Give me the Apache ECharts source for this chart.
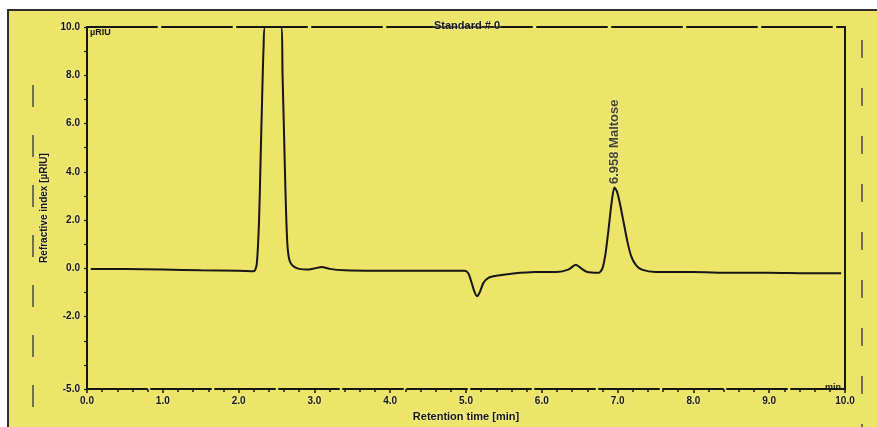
<!DOCTYPE html>
<html>
<head>
<meta charset="utf-8">
<title>Standard # 0</title>
<script src="https://cdn.jsdelivr.net/npm/echarts@6/dist/echarts.min.js"></script>
<style>
  html, body { margin: 0; padding: 0; background: #ffffff; }
  #chart { width: 877px; height: 427px; }
</style>
</head>
<body>
<div id="chart"></div>
<script>
// Chromatogram trace: retention time (min) and refractive-index signal (µRIU).
// The solvent peak saturates the detector at the top of the scale.
var retentionTimes = [
  0.05, 0.5, 1.0, 1.5, 2.0, 2.2, 2.24, 2.27, 2.29, 2.31, 2.33, 2.35,
  2.56, 2.58, 2.60, 2.62, 2.64, 2.66, 2.69, 2.74, 2.8, 2.9, 3.0, 3.1,
  3.2, 3.4, 3.8, 4.2, 4.6, 4.98, 5.03, 5.07, 5.11, 5.145, 5.18, 5.23,
  5.3, 5.4, 5.6, 5.9, 6.2, 6.35, 6.45, 6.52, 6.6, 6.75, 6.80, 6.84,
  6.88, 6.92, 6.958, 6.99, 7.03, 7.08, 7.13, 7.18, 7.24, 7.32, 7.5, 8.0,
  8.5, 9.0, 9.5, 9.95
];
var signal = [
  -0.02, -0.03, -0.05, -0.08, -0.1, -0.12, 0.2, 2.0, 4.5, 7.0, 9.2, 10.0,
  10.0, 8.0, 5.5, 3.0, 1.2, 0.5, 0.2, 0.05, -0.02, -0.05, 0.0, 0.06,
  -0.02, -0.08, -0.1, -0.1, -0.1, -0.1, -0.2, -0.55, -0.95, -1.15, -1.0, -0.6,
  -0.38, -0.3, -0.22, -0.15, -0.15, -0.05, 0.15, 0.0, -0.15, -0.18, 0.0, 0.6,
  1.6, 2.7, 3.35, 3.2, 2.7, 1.9, 1.1, 0.5, 0.15, -0.05, -0.15, -0.15,
  -0.18, -0.18, -0.2, -0.2
];

// Identified peak
var peakTime = 6.958;
var peakHeight = 3.35;
var peakName = 'Maltose';

// Axis tick labels
var xTickValues = [0, 1, 2, 3, 4, 5, 6, 7, 8, 9, 10];
var xTickLabels = ['0.0', '1.0', '2.0', '3.0', '4.0', '5.0', '6.0', '7.0', '8.0', '9.0', '10.0'];
var yTickValues = [10, 8, 6, 4, 2, 0, -2, -5];
var yTickLabels = ['10.0', '8.0', '6.0', '4.0', '2.0', '0.0', '-2.0', '-5.0'];

var chartTitle = 'Standard # 0';
var xAxisName = 'Retention time [min]';
var yAxisName = 'Refractive index [µRIU]';
var yUnit = 'µRIU';
var xUnit = 'min';

var trace = retentionTimes.map(function (t, i) { return [t, signal[i]]; });

var ink = '#161616';
var paper = '#ece56a';
var halo = {
  textShadowColor: 'rgba(255, 252, 200, 0.9)',
  textShadowBlur: 3
};
var labelFont = Object.assign({
  color: ink,
  fontFamily: 'Liberation Sans, Arial, sans-serif',
  fontWeight: 'bold',
  fontSize: 10
}, halo);

function lookup(values, labels) {
  return function (v) {
    for (var i = 0; i < values.length; i++) {
      if (Math.abs(values[i] - v) < 1e-6) return labels[i];
    }
    return '';
  };
}

var chart = echarts.init(document.getElementById('chart'), null, { renderer: 'canvas' });

chart.setOption({
  backgroundColor: '#ffffff',
  animation: false,
  title: {
    text: chartTitle,
    left: 462,
    top: 15,
    textAlign: 'center',
    textStyle: Object.assign({ color: ink, fontFamily: 'Liberation Sans, Arial, sans-serif', fontWeight: 'bold', fontSize: 11 }, halo)
  },
  graphic: [
    {
      type: 'rect', z: -10, silent: true,
      shape: { x: 8, y: 10, width: 900, height: 440 },
      style: { fill: paper, stroke: '#2e2e2e', lineWidth: 2 }
    },
    {
      type: 'line', z: -5, silent: true,
      shape: { x1: 33, y1: 85, x2: 33, y2: 427 },
      style: { stroke: '#4a4a3a', lineWidth: 1.5, lineDash: [22, 28] }
    },
    {
      type: 'line', z: -5, silent: true,
      shape: { x1: 862, y1: 40, x2: 862, y2: 427 },
      style: { stroke: '#4a4a3a', lineWidth: 1.5, lineDash: [18, 30] }
    },
    {
      type: 'text', silent: true,
      left: 90, top: 28,
      style: { text: yUnit, fill: ink, font: 'bold 9px Liberation Sans, Arial, sans-serif' }
    },
    {
      type: 'text', silent: true,
      left: 825, top: 383,
      style: { text: xUnit, fill: ink, font: 'bold 9px Liberation Sans, Arial, sans-serif' }
    }
  ],
  grid: { left: 87, right: 32, top: 27, bottom: 30, containLabel: false },
  xAxis: [
    {
      type: 'value',
      min: 0, max: 10, interval: 1,
      name: xAxisName,
      nameLocation: 'middle',
      nameGap: 17,
      nameTextStyle: Object.assign({ color: ink, fontFamily: 'Liberation Sans, Arial, sans-serif', fontWeight: 'bold', fontSize: 11 }, halo),
      axisLine: { show: true, onZero: false, lineStyle: { color: ink, width: 2, type: [60, 4] } },
      axisTick: { show: true, inside: false, length: 4, lineStyle: { color: ink, width: 1.5 } },
      minorTick: { show: true, splitNumber: 5, length: 3, lineStyle: { color: ink, width: 1.5 } },
      axisLabel: Object.assign({ margin: 7, formatter: lookup(xTickValues, xTickLabels) }, labelFont),
      splitLine: { show: false }
    },
    {
      type: 'value',
      position: 'top',
      min: 0, max: 10, interval: 1,
      axisLine: { show: true, onZero: false, lineStyle: { color: ink, width: 2, type: [70, 5] } },
      axisTick: { show: false },
      axisLabel: { show: false },
      splitLine: { show: false }
    }
  ],
  yAxis: [
    {
      type: 'value',
      min: -5, max: 10, interval: 1,
      name: yAxisName,
      nameLocation: 'middle',
      nameGap: 37,
      nameRotate: 90,
      nameTextStyle: Object.assign({ color: ink, fontFamily: 'Liberation Sans, Arial, sans-serif', fontWeight: 'bold', fontSize: 10 }, halo),
      axisLine: { show: true, onZero: false, lineStyle: { color: ink, width: 2 } },
      axisTick: { show: true, length: 3, lineStyle: { color: ink, width: 1.2 } },
      axisLabel: Object.assign({ margin: 7, formatter: lookup(yTickValues, yTickLabels) }, labelFont),
      splitLine: { show: false }
    },
    {
      type: 'value',
      position: 'right',
      min: -5, max: 10, interval: 1,
      axisLine: { show: true, onZero: false, lineStyle: { color: ink, width: 2 } },
      axisTick: { show: false },
      axisLabel: { show: false },
      splitLine: { show: false }
    }
  ],
  series: [
    {
      type: 'line',
      data: trace,
      showSymbol: false,
      smooth: 0.25,
      clip: true,
      lineStyle: { color: ink, width: 2 }
    },
    {
      type: 'scatter',
      data: [[peakTime, peakHeight]],
      symbolSize: 1,
      itemStyle: { color: 'rgba(0,0,0,0)' },
      label: Object.assign({
        show: true,
        position: 'top',
        distance: 3,
        rotate: 90,
        align: 'left',
        verticalAlign: 'middle',
        formatter: function () { return peakTime.toFixed(3) + ' ' + peakName; },
        color: ink,
        fontFamily: 'Liberation Sans, Arial, sans-serif',
        fontWeight: 'bold',
        fontSize: 13
      }, halo)
    }
  ]
});
</script>
</body>
</html>
